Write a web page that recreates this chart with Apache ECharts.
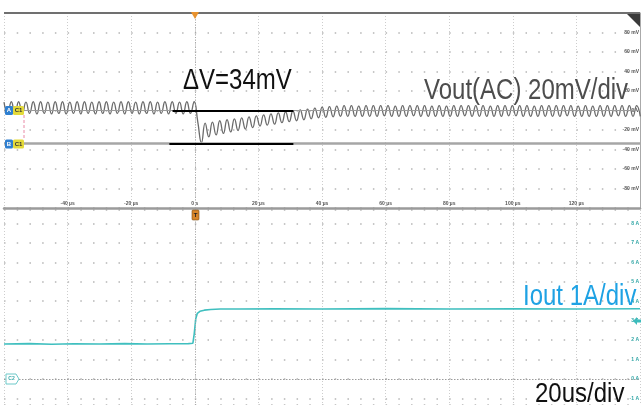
<!DOCTYPE html>
<html><head><meta charset="utf-8">
<script src="https://cdn.jsdelivr.net/npm/echarts@6/dist/echarts.min.js"></script>
<style>html,body{margin:0;padding:0;background:#fff}#c{width:643px;height:405px}</style>
</head><body><div id="c"></div>
<script>
// ---- Data read from the scope capture ----
// Time axis (µs), 20 µs/div
const timeMin = -60;
const timeMax = 140;
const timeStep = 20;
// Vout (AC, mV): samples every half ripple period (peak / trough)
const voutStartTime = -60;   // µs
const voutSampleStep = 1.15; // µs
const voutSamples = [
  8.5,-3.5,9,-3,9,-3.5,8.5,-3,9,-3.5,
  9,-3,8.5,-3.5,9,-3,9,-3.5,8.5,-3,
  9,-3.5,9,-3,8.5,-3.5,9,-3,9,-3.5,
  8.5,-3,9,-3.5,9,-3,8.5,-3.5,9,-3,
  9,-3.5,8.5,-3,9,-3.5,9,-3,8.5,-3.5,
  9,-3,9,-12,-33,-13,-27,-12,-25,-10.5,
  -23.5,-9.5,-22,-8.5,-20.5,-7.5,-19,-6.5,-17.5,-5.5,
  -16,-4.5,-15,-3.5,-14,-2.5,-12.5,-1.5,-11.5,-0.5,
  -10.5,0.5,-9.5,1.5,-8.5,2.5,-7.5,3.5,-7,4,
  -6.5,4.5,-6,5,-6,5,-6,4.5,-6,5,
  -6,5,-6,5,-5.5,5,-6,4.5,-6,5,
  -6,5,-5.5,5,-6,5,-6,4.5,-6,5,
  -6,4.5,-6,5,-6,5,-5.5,5,-6,5,
  -6,5,-6,4.5,-6,5,-6,5,-5.5,5,
  -5.5,5,-6,5,-6,4.5,-6,5,-6,5,
  -6,5,-6,5,-5.5,5,-6,4.5,-6,5,
  -6,4.5,-6,5,-6,5,-6,5,-5.5,5,
  -6,5,-6,5,-6
];
// Iout (A)
const ioutTime   = [-60,-52,-45,-38,-30,-22,-15,-8,-2,-0.6,-0.2,0.3,0.8,1.6,3,5,8,14,25,40,60,80,100,120,140];
const ioutValues = [1.8,1.82,1.79,1.81,1.8,1.82,1.8,1.81,1.82,1.84,2.3,3.1,3.38,3.48,3.54,3.57,3.6,3.6,3.61,3.6,3.62,3.6,3.61,3.6,3.61];
// Vertical scales
const voutMin = -100, voutMax = 100, voutStep = 20;   // mV
const ioutMin = -1.337, ioutMax = 8.69;                // A
// Cursors (mV) and ΔV marker lines (µs)
const cursorA = 0;
const cursorB = -34;
const deltaUpperSpan = [-7, 31];
const deltaLowerSpan = [-8, 31];
// Annotation texts
const labelDelta = 'ΔV=34mV';
const labelVout = 'Vout(AC) 20mV/div';
const labelIout = 'Iout 1A/div';
const labelTime = '20us/div';

const FONT = "'Liberation Sans', Arial, sans-serif";
const voutData = voutSamples.map((v, i) => [voutStartTime + i * voutSampleStep, v]);
const ioutData = ioutTime.map((t, i) => [t, ioutValues[i]]);

const chart = echarts.init(document.getElementById('c'), null, {renderer: 'canvas'});

const tinyLabel = {fontSize: 5, fontWeight: 'bold', fontFamily: FONT};
const hDots = {color: '#b5b5b5', type: [1.5, 11.22], width: 1.5};
const vDots = {color: '#cdcdcd', type: [1, 2], width: 1};

function bigText(text, x, y, color, sy) {
  return {type: 'text', x: x, y: y, scaleY: sy, z: 100,
    style: {text: text, x: 0, y: 0, fill: color, font: '24px ' + FONT, verticalAlign: 'middle', align: 'left'}};
}

const option = {
  animation: false,
  backgroundColor: '#ffffff',
  grid: [
    {left: 4, top: 13, width: 636, height: 195},
    {left: 4, top: 210, width: 636, height: 195}
  ],
  xAxis: [
    {gridIndex: 0, type: 'value', min: timeMin, max: timeMax, interval: timeStep,
     axisLine: {show: true, onZero: false, lineStyle: {color: '#9b9b9b', width: 2.5}},
     axisTick: {show: false},
     axisLabel: Object.assign({inside: true, margin: 2, color: '#555', showMinLabel: false, showMaxLabel: false,
       formatter: v => v === 0 ? '0 s' : v + ' µs'}, tinyLabel),
     splitLine: {show: true, lineStyle: vDots}},
    {gridIndex: 1, type: 'value', min: timeMin, max: timeMax, interval: timeStep,
     axisLine: {show: false}, axisTick: {show: false}, axisLabel: {show: false},
     splitLine: {show: true, lineStyle: vDots}}
  ],
  yAxis: [
    {gridIndex: 0, type: 'value', position: 'right', min: voutMin, max: voutMax, interval: voutStep,
     axisLine: {show: true, onZero: false, lineStyle: {color: '#aaaaaa', width: 1}},
     axisTick: {show: false},
     axisLabel: Object.assign({inside: true, margin: 1, color: '#555', showMinLabel: false, showMaxLabel: false,
       formatter: v => v === 0 ? '0 V' : v + ' mV'}, tinyLabel),
     splitLine: {show: true, lineStyle: hDots}},
    {gridIndex: 1, type: 'value', position: 'right', min: ioutMin, max: ioutMax, splitNumber: 10,
     axisLine: {show: false, onZero: false},
     axisTick: {show: false},
     axisLabel: Object.assign({inside: true, margin: 1, color: '#2fa5a5', showMinLabel: false, showMaxLabel: false,
       formatter: v => v + ' A'}, tinyLabel),
     splitLine: {show: true, lineStyle: hDots}}
  ],
  series: [
    {type: 'line', xAxisIndex: 0, yAxisIndex: 0, data: [], silent: true,
     markLine: {silent: true, symbol: ['none', 'none'], label: {show: false}, animation: false,
       data: [
         {xAxis: 0, lineStyle: {color: '#a9a9a9', type: [1, 1.5], width: 1}},
         {yAxis: cursorA, lineStyle: {color: '#9a9a9a', type: 'solid', width: 1}},
         {yAxis: cursorB, lineStyle: {color: '#a6a6a6', type: 'solid', width: 2.5}}
       ]}},
    {name: 'Vout', type: 'line', xAxisIndex: 0, yAxisIndex: 0, data: voutData, smooth: 0.5,
     showSymbol: false, lineStyle: {color: '#6b6b6b', width: 1.3}, z: 3},
    {type: 'line', xAxisIndex: 0, yAxisIndex: 0, data: [], silent: true, z: 5,
     markLine: {silent: true, symbol: ['none', 'none'], label: {show: false}, animation: false,
       lineStyle: {color: '#000', type: 'solid', width: 2},
       data: [
         [{coord: [deltaUpperSpan[0], cursorA]}, {coord: [deltaUpperSpan[1], cursorA]}],
         [{coord: [deltaLowerSpan[0], cursorB]}, {coord: [deltaLowerSpan[1], cursorB]}]
       ]}},
    {name: 'Iout', type: 'line', xAxisIndex: 1, yAxisIndex: 1, data: ioutData, smooth: false,
     showSymbol: false, lineStyle: {color: '#3fbfbf', width: 1.6}, z: 3,
     markLine: {silent: true, symbol: ['none', 'none'], label: {show: false}, animation: false,
       data: [
         {xAxis: 0, lineStyle: {color: '#a9a9a9', type: [1, 1.5], width: 1}},
         {yAxis: 0, lineStyle: {color: '#9c9c9c', type: [1.5, 1.5], width: 1}}
       ]}}
  ],
  graphic: [
    {type: 'line', shape: {x1: 4, y1: 13, x2: 640, y2: 13}, style: {stroke: '#707070', lineWidth: 2}, z: 50},
    {type: 'polygon', shape: {points: [[627, 14], [640, 14], [640, 27]]}, style: {fill: '#3a3a3a'}, z: 50},
    {type: 'polygon', shape: {points: [[191, 12], [199, 12], [195, 19]]}, style: {fill: '#e8922e'}, z: 50},
    {type: 'rect', shape: {x: 192, y: 210, width: 7, height: 10, r: 1}, style: {fill: '#d8862a', stroke: '#7a4a10', lineWidth: 0.6}, z: 50},
    {type: 'text', x: 195.5, y: 215, z: 51, style: {text: 'T', fill: '#222', font: 'bold 6px ' + FONT, align: 'center', verticalAlign: 'middle'}},
    // cursor A / B channel tags
    {type: 'rect', shape: {x: 5, y: 106, width: 8, height: 9, r: 1.5}, style: {fill: '#2f7fd0'}, z: 50},
    {type: 'text', x: 9, y: 110.5, z: 51, style: {text: 'A', fill: '#fff', font: 'bold 6px ' + FONT, align: 'center', verticalAlign: 'middle'}},
    {type: 'rect', shape: {x: 13, y: 106, width: 11, height: 9, r: 1.5}, style: {fill: '#e4da3a'}, z: 50},
    {type: 'text', x: 18.5, y: 110.5, z: 51, style: {text: 'C1', fill: '#333', font: 'bold 6px ' + FONT, align: 'center', verticalAlign: 'middle'}},
    {type: 'rect', shape: {x: 5, y: 139.5, width: 8, height: 9, r: 1.5}, style: {fill: '#2f7fd0'}, z: 50},
    {type: 'text', x: 9, y: 144, z: 51, style: {text: 'B', fill: '#fff', font: 'bold 6px ' + FONT, align: 'center', verticalAlign: 'middle'}},
    {type: 'rect', shape: {x: 13, y: 139.5, width: 11, height: 9, r: 1.5}, style: {fill: '#e4da3a'}, z: 50},
    {type: 'text', x: 18.5, y: 144, z: 51, style: {text: 'C1', fill: '#333', font: 'bold 6px ' + FONT, align: 'center', verticalAlign: 'middle'}},
    {type: 'line', shape: {x1: 24, y1: 115, x2: 24, y2: 139.5}, style: {stroke: '#e98aa6', lineWidth: 1, lineDash: [3, 2]}, z: 50},
    // C2 ground tag
    {type: 'polygon', shape: {points: [[6, 374], [16, 374], [19, 379], [16, 384], [6, 384]]}, style: {fill: '#fff', stroke: '#6cc9c9', lineWidth: 1}, z: 50},
    {type: 'text', x: 11.5, y: 379, z: 51, style: {text: 'C2', fill: '#3aa9a9', font: 'bold 5px ' + FONT, align: 'center', verticalAlign: 'middle'}},
    // C2 offset arrow at right
    {type: 'polygon', shape: {points: [[633, 321], [637, 317], [637, 319.5], [641, 319.5], [641, 322.5], [637, 322.5], [637, 325]]}, style: {fill: '#3cbcbc'}, z: 50},
    // annotations
    bigText(labelDelta, 183, 81, '#111111', 1.23),
    bigText(labelVout, 424, 91, '#4d4d4d', 1.2),
    bigText(labelIout, 523, 297, '#1ea2e4', 1.22),
    bigText(labelTime, 535, 394, '#111111', 1.18)
  ]
};
chart.setOption(option);
</script>
</body></html>
